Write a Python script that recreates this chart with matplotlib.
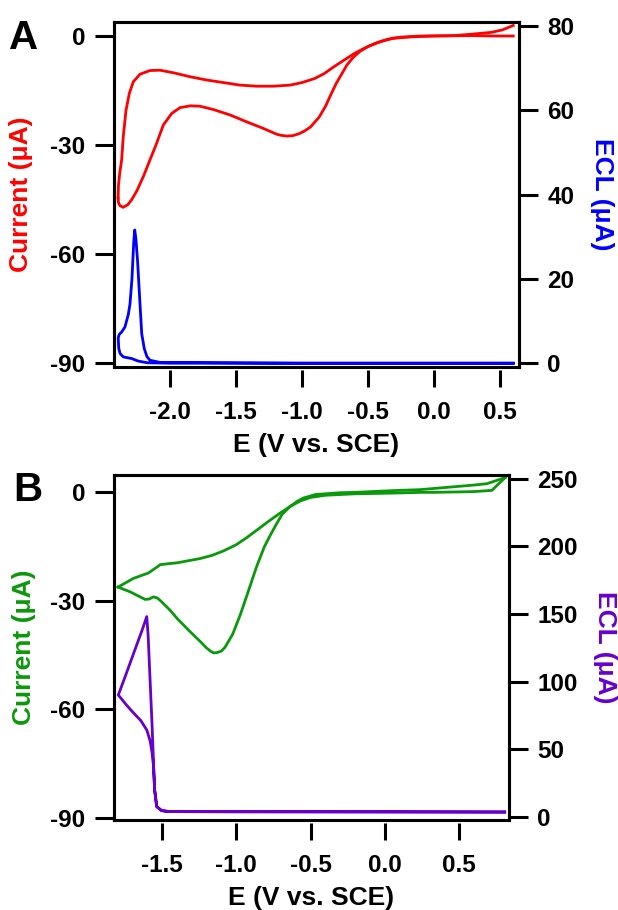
import matplotlib
matplotlib.use("Agg")
import matplotlib.pyplot as plt

plt.rcParams['font.family'] = ['Liberation Sans', 'DejaVu Sans']
plt.rcParams['font.weight'] = 'bold'
plt.rcParams['axes.unicode_minus'] = False

# ---- panel A: CV (red) and ECL (blue) ----
a_cv_fwd_E = [0.60, 0.45, 0.30, 0.10, -0.10, -0.25, -0.35, -0.43, -0.50, -0.56, -0.61, -0.66,
              -0.70, -0.74, -0.78, -0.82, -0.87, -0.935, -0.98, -1.024, -1.07, -1.116, -1.16,
              -1.192, -1.293, -1.419, -1.545, -1.672, -1.773, -1.848, -1.924, -1.987, -2.051,
              -2.101, -2.152, -2.20, -2.25, -2.29, -2.32, -2.355, -2.38, -2.39, -2.393]
a_cv_fwd_I = [0.0, 0.0, 0.1, 0.05, 0.0, -0.3, -0.9, -1.8, -2.9, -4.2, -5.8, -8.0,
              -10.5, -13.0, -16.0, -19.2, -22.3, -25.0, -26.1, -26.9, -27.4, -27.5, -27.3,
              -27.0, -25.4, -23.6, -21.7, -20.2, -19.3, -19.2, -19.7, -21.3, -24.5,
              -29.5, -34.1, -38.5, -42.5, -45.0, -46.4, -47.1, -46.6, -45.8, -44.5]
a_cv_rev_E = [-2.393, -2.39, -2.38, -2.366, -2.354, -2.333, -2.308, -2.278, -2.227, -2.152,
              -2.076, -1.975, -1.848, -1.722, -1.596, -1.47, -1.343, -1.217, -1.09, -1.0,
              -0.905, -0.83, -0.756, -0.68, -0.607, -0.54, -0.488, -0.40, -0.31, -0.15, 0.0,
              0.15, 0.286, 0.435, 0.52, 0.60]
a_cv_rev_I = [-44.5, -41.0, -37.5, -34.1, -27.7, -20.4, -15.8, -12.6, -10.5, -9.5,
              -9.4, -10.1, -11.2, -12.1, -12.8, -13.5, -13.8, -13.8, -13.5, -12.8,
              -11.7, -10.3, -8.4, -6.6, -4.9, -3.6, -2.7, -1.5, -0.6, -0.2, 0.0,
              0.1, 0.5, 1.0, 1.7, 2.9]

a_ecl_E = [0.60, -1.0, -2.076, -2.152, -2.175, -2.195, -2.214, -2.227, -2.245, -2.258, -2.267,
           -2.275, -2.288, -2.303, -2.316, -2.341, -2.366, -2.385, -2.392, -2.388, -2.378,
           -2.354, -2.29, -2.24, -2.17, -2.0, 0.60]
a_ecl_L = [0.0, 0.0, 0.2, 0.7, 1.6, 3.5, 7.0, 14.0, 24.0, 29.5, 31.6,
           28.5, 20.0, 14.0, 11.5, 8.6, 7.4, 6.8, 6.0, 3.5, 2.3,
           1.5, 1.1, 0.5, 0.1, 0.0, 0.0]

# ---- panel B: CV (green) and ECL (purple) ----
b_cv_fwd_E = [0.809, 0.76, 0.719, 0.593, 0.33, 0.237, 0.063, -0.2, -0.40, -0.50, -0.57, -0.637,
              -0.69, -0.727, -0.77, -0.811, -0.864, -0.917, -0.97, -1.023, -1.076, -1.10, -1.129,
              -1.15, -1.169, -1.20, -1.235, -1.315, -1.394, -1.444, -1.5, -1.53, -1.556, -1.585,
              -1.612, -1.66, -1.713, -1.794]
b_cv_fwd_I = [4.1, 2.2, 0.55, 0.2, 0.0, 0.0, -0.2, -0.4, -0.8, -1.4, -2.4, -3.9,
              -6.0, -8.6, -11.8, -15.1, -20.7, -27.2, -33.6, -39.2, -42.9, -43.9, -44.3,
              -44.4, -44.0, -43.0, -41.5, -38.3, -35.0, -32.6, -30.3, -29.2, -28.9, -29.5,
              -29.6, -28.6, -27.5, -26.2]
b_cv_rev_E = [-1.794, -1.691, -1.59, -1.53, -1.511, -1.45, -1.399, -1.242, -1.16, -1.086, -1.00,
              -0.928, -0.85, -0.772, -0.70, -0.637, -0.59, -0.55, -0.467, -0.3, -0.202, 0.063,
              0.237, 0.45, 0.593, 0.686, 0.809]
b_cv_rev_I = [-26.2, -23.8, -22.3, -20.6, -20.0, -19.7, -19.5, -18.3, -17.4, -16.2, -14.5,
              -12.5, -10.1, -7.7, -5.6, -3.9, -2.5, -1.6, -0.6, -0.1, 0.0, 0.5,
              0.75, 1.5, 2.0, 2.4, 4.1]

b_ecl_E = [0.805, 0.0, -1.0, -1.444, -1.50, -1.534, -1.548, -1.556, -1.566, -1.58, -1.592, -1.601,
           -1.632, -1.672, -1.738, -1.792, -1.74, -1.70, -1.64, -1.60, -1.578, -1.566, -1.556,
           -1.548, -1.534, -1.50, -1.444, -1.0, 0.0, 0.805]
b_ecl_L = [3.5, 3.6, 3.7, 3.8, 4.5, 7.5, 20.0, 42.0, 70.0, 105.0, 135.0, 148.0,
           138.0, 126.0, 106.0, 90.0, 83.0, 78.0, 71.0, 64.0, 56.0, 48.0, 38.0,
           20.0, 7.5, 4.5, 3.8, 3.7, 3.6, 3.5]

W, H = 618, 910
fig = plt.figure(figsize=(W / 100, H / 100), dpi=100)


def panel(rect, cv_fwd, cv_rev, ecl, cv_col, ecl_col, xlim, ylim, y2lim, xticks, y2ticks,
          letter, letter_xy, ecl_x):
    ax = fig.add_axes(rect)
    ax.plot(cv_fwd[0], cv_fwd[1], color=cv_col, lw=2.0, solid_joinstyle='round')
    ax.plot(cv_rev[0], cv_rev[1], color=cv_col, lw=2.0, solid_joinstyle='round')
    ax.set_xlim(*xlim)
    ax.set_ylim(*ylim)
    ax.set_xticks(xticks)
    ax.set_xticklabels(['%.1f' % t for t in xticks])
    ax.set_yticks([-90, -60, -30, 0])
    ax2 = ax.twinx()
    ax2.plot(ecl[0], ecl[1], color=ecl_col, lw=2.0, solid_joinstyle='round')
    ax2.set_ylim(*y2lim)
    ax2.set_yticks(y2ticks)

    for a in (ax, ax2):
        for s in a.spines.values():
            s.set_linewidth(2.2)
    # x ticks sit a little below the frame
    ax.spines['bottom'].set_position(('outward', 2.5))
    ax.spines['bottom'].set_visible(False)

    ax.tick_params(axis='x', direction='out', length=12, width=2.2, pad=10, labelsize=17.5)
    ax.tick_params(axis='y', direction='out', length=13.5, width=2.2, pad=7, labelsize=17.5)
    ax2.tick_params(axis='y', direction='out', length=13.5, width=2.2, pad=7, labelsize=17.5)

    ax.set_xlabel('E (V vs. SCE)', fontsize=19, fontweight='bold')
    ax.xaxis.set_label_coords(0.5, -0.226)
    ax.xaxis.label.set_va('center')
    ax.set_ylabel('Current (\u03bcA)', fontsize=19, fontweight='bold', color=cv_col, va='center')
    ax.yaxis.set_label_coords(-0.229, 0.5)
    ax2.set_ylabel('ECL (\u03bcA)', fontsize=19, fontweight='bold', color=ecl_col,
                   rotation=270, va='center')
    ax2.yaxis.set_label_coords(ecl_x, 0.5)

    ax.text(letter_xy[0], letter_xy[1], letter, transform=ax.transAxes, fontsize=29,
            fontweight='bold', ha='left', va='top')
    return ax, ax2


panel([114 / W, 1 - 367 / H, 405 / W, 345 / H],
      (a_cv_fwd_E, a_cv_fwd_I), (a_cv_rev_E, a_cv_rev_I), (a_ecl_E, a_ecl_L),
      '#ff0000', '#0000ff', (-2.424, 0.644), (-91.0, 3.85), (-0.9, 80.9),
      [-2.0, -1.5, -1.0, -0.5, 0.0, 0.5], [0, 20, 40, 60, 80], 'A', (-0.259, 1.008), 1.205)

panel([114 / W, 1 - 820 / H, 395 / W, 345 / H],
      (b_cv_fwd_E, b_cv_fwd_I), (b_cv_rev_E, b_cv_rev_I), (b_ecl_E, b_ecl_L),
      '#0a990a', '#6600cc', (-1.821, 0.834), (-90.6, 4.8), (-2.4, 252.7),
      [-1.5, -1.0, -0.5, 0.0, 0.5], [0, 50, 100, 150, 200, 250], 'B', (-0.255, 1.012), 1.243)

fig.savefig('out.png', dpi=100)
